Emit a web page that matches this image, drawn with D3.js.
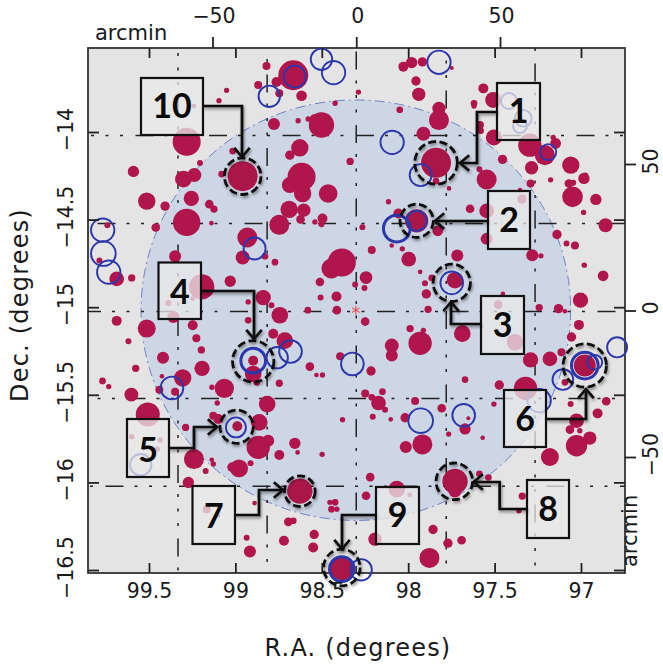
<!DOCTYPE html>
<html>
<head>
<meta charset="utf-8">
<script src="https://cdnjs.cloudflare.com/ajax/libs/d3/7.8.5/d3.min.js"></script>
<style>
html, body { margin: 0; padding: 0; background: #fff; }
text { font-family: "DejaVu Sans", sans-serif; fill: #1a1a1a; }
</style>
</head>
<body>
<div id="wrapper"></div>
<script>
// sources: [R.A. deg, Dec. deg, radius arcmin]
const stars = [
[98.820,-13.623,1.38],[98.665,-13.676,5.17],[98.868,-13.732,1.38],[98.762,-13.715,1.72],[98.746,-13.779,1.38],[98.617,-13.793,1.84],
[99.051,-13.762,.92],[99.095,-13.821,.92],[99.240,-13.852,.8],[98.777,-13.955,2.07],[98.502,-13.960,4.37],[98.540,-13.928,1.84],
[98.579,-13.926,.92],[98.637,-13.936,.92],[99.282,-14.056,4.83],[99.016,-14.109,1.15],[98.627,-14.090,2.99],[98.685,-14.132,1.61],
[99.590,-14.225,1.95],[99.205,-14.177,1.03],[99.238,-14.246,2.41],[99.301,-14.269,2.87],[99.080,-14.240,1.15],[98.617,-14.256,4.83],
[98.685,-14.303,2.76],[98.611,-14.351,2.99],[98.463,-14.351,3.22],[99.513,-14.395,2.99],[99.255,-14.379,2.64],[99.407,-14.423,1.61],
[99.151,-14.412,1.49],[99.124,-14.440,1.26],[99.282,-14.516,4.71],[98.689,-14.442,2.99],[98.604,-14.446,2.3],[98.623,-14.499,1.49],
[98.746,-14.530,3.45],[98.540,-14.513,.92],[98.496,-14.494,1.72],[98.502,-14.526,1.03],[99.139,-14.520,.8],[99.461,-14.545,1.49],
[98.931,-14.602,3.45],[98.958,-14.716,2.41],[98.829,-14.709,1.15],[99.349,-14.709,2.07],[98.771,-14.743,1.15],[99.741,-14.532,1.03],
[99.787,-14.734,1.03],[99.687,-14.838,2.53],[99.600,-14.833,1.26],[98.444,-14.779,3.45],[99.195,-14.884,4.37],[99.030,-14.852,1.95],
[98.511,-14.856,1.49],[98.507,-14.945,1.03],[98.839,-14.945,2.64],[98.926,-14.970,.92],[98.791,-14.989,1.03],[98.743,-15.046,2.87],
[98.581,-15.017,1.15],[99.388,-14.976,1.03],[99.247,-14.951,.8],[99.359,-15.056,2.07],[99.687,-15.078,1.72],[99.513,-15.122,3.1],
[98.926,-15.075,1.15],[99.247,-15.103,1.72],[98.781,-15.151,1.72],
[98.028,-13.627,1.72],[97.980,-13.604,1.95],[97.918,-13.600,1.61],[97.748,-13.635,.69],[97.955,-13.709,1.61],[97.939,-13.785,2.3],
[98.288,-13.772,.92],[98.423,-13.836,.92],[98.049,-13.873,1.15],[97.565,-13.751,1.72],[97.508,-13.817,2.76],[97.619,-13.836,1.15],
[97.619,-13.852,.92],[97.822,-13.865,2.3],[97.822,-13.932,3.45],[97.585,-13.960,1.38],[97.581,-13.993,1.15],[97.912,-14.010,2.41],
[97.504,-14.031,2.76],[97.296,-14.075,4.02],[97.209,-14.132,3.45],[97.147,-14.065,1.84],[97.161,-14.031,.92],[97.059,-14.189,2.99],
[97.286,-14.204,2.3],[97.454,-14.156,1.61],[97.588,-14.212,1.03],[97.546,-14.271,3.45],[97.839,-14.280,1.15],[98.336,-14.168,1.26],
[97.176,-14.273,.92],[96.983,-14.265,1.95],[96.974,-14.246,.92],[97.070,-14.294,1.49],[97.045,-14.290,1.03],[97.292,-14.294,1.38],
[97.049,-14.370,3.56],[96.914,-14.385,1.95],[97.764,-14.322,.8],[98.114,-14.398,.92],[97.642,-14.438,1.49],[97.546,-14.450,2.53],
[97.342,-14.383,1.61],[97.353,-14.332,.8],[96.985,-14.459,.92],[96.858,-14.532,2.41],[98.265,-14.543,1.03],[98.057,-14.465,1.72],
[97.829,-14.564,1.84],[97.139,-14.585,1.61],[97.546,-14.610,2.07],[98.095,-14.648,.8],[98.034,-14.667,.92],[97.084,-14.636,1.03],
[97.035,-14.648,1.38],[98.211,-14.673,1.38],[97.997,-14.726,2.53],[97.716,-14.705,2.07],[97.282,-14.703,2.07],[97.232,-14.707,.92],
[96.981,-14.760,.92],[98.384,-14.745,4.83],[97.931,-14.798,.8],[98.244,-14.831,2.18],[96.872,-14.821,1.84],[97.864,-14.833,1.15],
[97.903,-14.863,1.03],[98.307,-14.871,1.03],[98.253,-14.890,1.03],[97.895,-14.924,1.61],[98.415,-14.939,1.72],[97.452,-14.924,.8],
[97.003,-14.960,2.64],[97.479,-14.985,1.49],[98.413,-15.017,1.49],[97.885,-15.012,1.26],[97.242,-15.002,1.26],[97.130,-15.008,1.61],
[97.093,-15.023,.8],[98.249,-15.082,1.49],[97.012,-15.101,1.72],[97.989,-15.122,1.26],[97.912,-15.132,.92],[97.687,-15.151,2.87],
[99.619,-15.194,1.03],[99.419,-15.288,2.07],[99.226,-15.177,1.38],[99.197,-15.244,1.26],[99.193,-15.349,2.64],[99.577,-15.349,1.26],
[99.425,-15.394,.8],[99.305,-15.404,2.99],[99.440,-15.471,1.38],[99.349,-15.482,1.38],[99.769,-15.421,1.15],[99.733,-15.453,.92],
[99.602,-15.499,2.41],[99.136,-15.457,.92],[99.064,-15.463,3.33],[99.105,-15.547,.92],[98.816,-15.553,2.87],[98.714,-15.191,2.87],
[98.897,-15.381,2.87],[98.877,-15.429,1.15],[98.569,-15.339,1.49],[98.531,-15.387,.8],[98.496,-15.387,.92],[98.746,-15.434,1.26],
[99.507,-15.613,4.14],[99.600,-15.739,.92],[99.436,-15.758,.92],[99.452,-15.810,.92],[99.128,-15.619,1.38],[99.099,-15.638,1.72],
[98.862,-15.657,2.87],[99.288,-15.686,1.26],[98.810,-15.762,2.07],[98.868,-15.800,4.02],[98.656,-15.777,1.95],[98.640,-15.829,.8],
[98.746,-15.844,1.72],[98.498,-15.840,.92],[99.240,-15.867,3.45],[99.137,-15.871,.8],[99.128,-15.895,.92],[99.172,-15.935,1.03],
[98.979,-15.920,3.1],[99.018,-15.914,1.72],[98.912,-15.890,1.03],[99.272,-16.000,1.95],[98.889,-16.118,.8],[98.694,-16.225,1.49],
[98.665,-16.219,1.15],[99.166,-16.153,1.38],[99.099,-16.191,.69],[98.544,-16.297,1.61],[98.719,-16.333,1.72],[98.550,-16.372,1.72],
[98.935,-16.316,1.03],[98.916,-16.394,2.07],[98.453,-16.114,.92],[98.444,-16.153,1.15],
[98.095,-15.219,2.41],[98.095,-15.276,2.07],[97.931,-15.206,4.02],[98.394,-15.280,1.38],[98.215,-15.364,1.61],[97.382,-15.200,2.87],
[97.292,-15.301,2.64],[97.180,-15.295,2.53],[97.113,-15.257,1.38],[97.055,-15.170,1.61],[97.671,-15.413,1.15],[97.473,-15.444,1.61],
[97.321,-15.463,4.02],[97.093,-15.429,1.15],[98.249,-15.492,1.38],[98.211,-15.514,1.15],[98.172,-15.547,2.53],[98.149,-15.482,1.15],
[98.134,-15.585,1.03],[97.960,-15.535,1.38],[97.806,-15.577,1.49],[97.504,-15.553,.92],[97.060,-15.553,1.03],[96.854,-15.537,1.49],
[96.904,-15.606,1.72],[98.205,-15.625,1.03],[98.101,-15.640,.8],[98.380,-15.642,.92],[98.018,-15.631,1.61],[97.026,-15.648,2.53],
[97.064,-15.699,1.49],[97.007,-15.705,.92],[97.671,-15.695,1.95],[97.652,-15.634,.69],[97.766,-15.724,.92],[97.569,-15.745,.8],
[97.918,-15.783,3.45],[98.014,-15.798,2.07],[97.026,-15.791,3.68],[96.949,-15.747,2.3],[97.180,-15.855,3.1],[98.220,-15.970,1.49],
[97.729,-16.048,2.3],[97.588,-15.951,1.15],[97.536,-15.972,1.15],[98.066,-16.038,2.87],[97.991,-16.071,.8],[98.244,-16.076,1.49],
[98.423,-16.114,1.15],[98.413,-16.153,.92],[97.340,-16.078,1.26],[97.359,-16.162,.92],[97.856,-16.269,1.61],[97.691,-16.330,1.49],
[97.770,-16.347,1.61],[98.192,-16.324,2.3],[97.877,-16.431,3.45]
];
// the ten numbered sources, in label order
const targetLabels = ["1","2","3","4","5","6","7","8","9","10"];
const targetStars = [
[97.839,-14.176,5.17],[97.951,-14.507,4.02],[97.729,-14.846,2.87],[98.897,-15.305,1.72],[98.989,-15.680,1.72],
[96.978,-15.333,3.8],[98.627,-16.050,4.37],[97.729,-15.994,4.37],[98.384,-16.492,4.02],[98.958,-14.252,5.17]
];
const targetHalos = [
[97.839,-14.176,7.36],[97.951,-14.507,5.75],[97.748,-14.861,6.44],[98.897,-15.309,7.13],[98.993,-15.682,5.75],
[96.978,-15.333,7.47],[98.627,-16.050,5.29],[97.733,-15.994,6.32],[98.384,-16.486,6.32],[98.958,-14.252,6.32]
];
const rings = [
[98.502,-13.585,3.68],[98.656,-13.684,3.79],[98.804,-13.796,3.68],[99.768,-14.560,4.02],[99.764,-14.694,4.25],[99.733,-14.800,4.02],
[98.889,-14.665,3.79],[98.432,-13.661,4.02],[97.822,-13.602,4.02],[98.093,-14.059,4.02],[97.928,-14.246,3.79],[97.951,-14.507,3.45],
[97.748,-14.861,3.91],[97.190,-14.115,2.76],[97.417,-13.823,2.76],[97.334,-13.922,2.87],[97.353,-13.966,2.41],[98.758,-15.288,3.68],
[98.681,-15.253,3.91],[98.997,-15.686,3.45],[99.367,-15.461,3.91],[99.548,-15.899,3.68],[98.323,-15.324,3.91],[97.928,-15.648,4.25],
[97.679,-15.617,3.91],[97.242,-15.533,4.02],[97.105,-15.413,3.56],[96.920,-15.314,2.53],[96.791,-15.229,3.45],[98.272,-16.499,3.68]
];
const thickRings = [[98.066,-14.551,4.6],[98.897,-15.305,4.25],[96.978,-15.333,4.6],[98.384,-16.495,4.25]];
const fieldCentre = [98.303,-15.017];
const fieldRadius = [1.243,1.2];

const raTicks = [99.5,99,98.5,98,97.5,97];
const decTicks = [-14,-14.5,-15,-15.5,-16,-16.5];
const arcTicksTop = [-50,0,50];
const arcTicksRight = [50,0,-50];
const gridArcX = [-62,-31,0,31.3,62.2];
const gridArcY = [59.7,29.7,-0.3,-30,-60];

const width = 663, height = 664;
const plotLeft = 88, plotRight = 625, plotTop = 48, plotBottom = 573;

const x = d3.scaleLinear().domain([99.5,97]).range([149,581]);
const y = d3.scaleLinear().domain([-14,-16.5]).range([132,570]);
const xArc = d3.scaleLinear().domain([-50,50]).range([212.5,500]);
const yArc = d3.scaleLinear().domain([50,-50]).range([164,457]);
const rSize = d3.scaleLinear().domain([0,10]).range([0,29]);

const minus = s => String(s).replace("-", "\u2212");

const svg = d3.select("#wrapper").append("svg")
    .attr("width", width)
    .attr("height", height)
    .style("display", "block");

const defs = svg.append("defs");
const shadow = defs.append("filter").attr("id", "shadow")
    .attr("x", "-30%").attr("y", "-30%").attr("width", "160%").attr("height", "160%");
shadow.append("feDropShadow").attr("dx", 1).attr("dy", 2).attr("stdDeviation", 1.6)
    .attr("flood-color", "#000").attr("flood-opacity", 0.45);
defs.append("filter").attr("id", "soft")
    .append("feGaussianBlur").attr("stdDeviation", 0.35);

svg.append("rect")
    .attr("x", plotLeft).attr("y", plotTop).attr("width", plotRight-plotLeft).attr("height", plotBottom-plotTop)
    .attr("fill", "#e4e4e4");

// the frame goes on first: sources near the edge run over it
svg.append("rect")
    .attr("x", plotLeft).attr("y", plotTop).attr("width", plotRight-plotLeft).attr("height", plotBottom-plotTop)
    .attr("fill", "none").attr("stroke", "#333").attr("stroke-width", 1.8);

const plot = svg.append("g");

plot.append("ellipse")
    .attr("cx", x(fieldCentre[0])).attr("cy", y(fieldCentre[1]))
    .attr("rx", x(fieldCentre[0]-fieldRadius[0]) - x(fieldCentre[0]))
    .attr("ry", y(fieldCentre[1]-fieldRadius[1]) - y(fieldCentre[1]))
    .attr("fill", "#cdd6e4")
    .attr("stroke", "#4556b8")
    .attr("stroke-width", 0.7)
    .attr("stroke-dasharray", "10 4 2 4");

// grid, each line has its own dash phase
const gridDash = "18 11 3 11.5 3 11.5 3 12.5";
const phaseX = [49,26,3,42,15];
const phaseY = [47,9,68,39,17];
gridArcX.forEach((d,i) => {
    plot.append("line")
        .attr("x1", xArc(d)).attr("x2", xArc(d)).attr("y1", plotTop).attr("y2", plotBottom)
        .attr("stroke", "#222").attr("stroke-width", 1.5)
        .attr("stroke-dasharray", gridDash).attr("stroke-dashoffset", 73-phaseX[i]);
});
gridArcY.forEach((d,i) => {
    plot.append("line")
        .attr("y1", yArc(d)).attr("y2", yArc(d)).attr("x1", plotLeft).attr("x2", plotRight)
        .attr("stroke", "#222").attr("stroke-width", 1.5)
        .attr("stroke-dasharray", gridDash).attr("stroke-dashoffset", 73-phaseY[i]);
});

const starG = plot.append("g").attr("filter", "url(#soft)");
starG.selectAll("circle.star").data(stars).enter().append("circle")
    .attr("class", "star")
    .attr("cx", d => x(d[0])).attr("cy", d => y(d[1])).attr("r", d => rSize(d[2]))
    .attr("fill", "#b0134c");
starG.selectAll("circle.target").data(targetStars).enter().append("circle")
    .attr("class", "target")
    .attr("cx", d => x(d[0])).attr("cy", d => y(d[1])).attr("r", d => rSize(d[2]))
    .attr("fill", "#ab1849");

plot.append("path")
    .attr("transform", `translate(${x(fieldCentre[0])},${y(fieldCentre[1])})`)
    .attr("d", d3.symbol(d3.symbolAsterisk, 55)())
    .attr("fill", "none")
    .attr("stroke", "#e8403c")
    .attr("stroke-width", 1);

plot.selectAll("circle.ring").data(rings).enter().append("circle")
    .attr("class", "ring")
    .attr("cx", d => x(d[0])).attr("cy", d => y(d[1])).attr("r", d => rSize(d[2]))
    .attr("fill", "none")
    .attr("stroke", "#2b37aa")
    .attr("stroke-width", 1.9);
plot.selectAll("circle.thick").data(thickRings).enter().append("circle")
    .attr("class", "thick")
    .attr("cx", d => x(d[0])).attr("cy", d => y(d[1])).attr("r", d => rSize(d[2]))
    .attr("fill", "none")
    .attr("stroke", "#2b37aa")
    .attr("stroke-width", 3);

// dashed halos round the numbered sources
svg.append("g").attr("filter", "url(#shadow)")
    .selectAll("circle").data(targetHalos).enter().append("circle")
    .attr("cx", d => x(d[0])).attr("cy", d => y(d[1])).attr("r", d => rSize(d[2]))
    .attr("fill", "none")
    .attr("stroke", "#111")
    .attr("stroke-width", 2.8)
    .attr("stroke-dasharray", "8 3.5");

// callout layout on the page, not data: box corners and the elbow path to the halo
const callouts = [
    {box:[497,83,540,140], dy:3, path:[[497,112],[477,112],[477,163],[460,163]]},
    {box:[488,191,530,249], dy:3, path:[[488,221],[435,221]]},
    {box:[481,296,524,354], dy:3, path:[[481,324],[451,324],[451,302]]},
    {box:[158.5,262.5,201,319], dy:5, path:[[201,291],[254,291],[254,339]]},
    {box:[127,419,169,477], dy:5, path:[[169,448],[194,448],[194,427],[217,427]]},
    {box:[504,390,546,447], dy:4, path:[[546,419],[586,419],[586,389]]},
    {box:[192.5,486,235,544], dy:4, path:[[235,515],[259,515],[259,490],[283,490]]},
    {box:[527,480,569,538], dy:3, path:[[527,509],[499.7,509],[499.7,482],[473.7,482]]},
    {box:[376,487,419,544], dy:3, path:[[376,515],[342,515],[342,549]]},
    {box:[141,78,203,135], dy:3, path:[[203,106],[242,106],[242,157]]}
];

const line = d3.line();
const callG = svg.append("g");
callouts.forEach((c,i) => {
    const [x0,y0,x1,y1] = c.box;
    callG.append("rect")
        .attr("x", x0).attr("y", y0).attr("width", x1-x0).attr("height", y1-y0)
        .attr("fill", "#e8e8e8").attr("fill-opacity", 0.76)
        .attr("stroke", "#111").attr("stroke-width", 2.2);
    callG.append("text")
        .attr("x", (x0+x1)/2).attr("y", (y0+y1)/2 + c.dy)
        .attr("text-anchor", "middle").attr("dominant-baseline", "middle")
        .style("font-family", "Lato, sans-serif")
        .style("font-weight", 700).style("font-size", "34px").style("fill", "#0a0a0a")
        .text(targetLabels[i]);

    const n = c.path.length;
    const tip = c.path[n-1], prev = c.path[n-2];
    const a = Math.atan2(tip[1]-prev[1], tip[0]-prev[0]);
    const wing = s => [tip[0]-12*Math.cos(a+s*0.7), tip[1]-12*Math.sin(a+s*0.7)];
    const g = callG.append("g").attr("filter", "url(#shadow)");
    g.append("path").attr("d", line(c.path))
        .attr("fill", "none").attr("stroke", "#0a0a0a").attr("stroke-width", 2.7);
    g.append("path").attr("d", line([wing(1), tip, wing(-1)]))
        .attr("fill", "none").attr("stroke", "#0a0a0a").attr("stroke-width", 2.7);
});

// axes
const styleAxis = g => {
    g.select(".domain").remove();
    g.selectAll("line").attr("stroke", "#222").attr("stroke-width", 1.8);
    g.selectAll("text").style("font-size", "20.5px").attr("fill", "#1a1a1a");
};

svg.append("g").attr("transform", `translate(0,${plotBottom})`)
    .call(d3.axisBottom(x).tickValues(raTicks).tickSize(-10).tickFormat(d => String(d)))
    .call(styleAxis)
    .call(g => g.selectAll("text").attr("y", 25).attr("dy", 0));

svg.append("g").attr("transform", `translate(0,${plotTop})`)
    .call(d3.axisTop(x).tickValues(raTicks).tickSize(-10).tickFormat(""))
    .call(styleAxis);

svg.append("g").attr("transform", `translate(${plotLeft},0)`)
    .call(d3.axisLeft(y).tickValues(decTicks).tickSize(-11).tickFormat(minus))
    .call(styleAxis)
    .call(g => g.selectAll("text").attr("x", 0).attr("dy", 0).attr("text-anchor", "middle")
        .attr("transform", "translate(-15,-3) rotate(-90)"));

svg.append("g").attr("transform", `translate(${plotRight},0)`)
    .call(d3.axisRight(y).tickValues(decTicks).tickSize(-11).tickFormat(""))
    .call(styleAxis);

svg.append("g").attr("transform", `translate(0,${plotTop})`)
    .call(d3.axisTop(xArc).tickValues(arcTicksTop).tickSize(11).tickFormat(minus))
    .call(styleAxis)
    .call(g => g.selectAll("text").attr("y", -25).attr("dy", 0).attr("dx", 1));

svg.append("g").attr("transform", `translate(${plotRight},0)`)
    .call(d3.axisRight(yArc).tickValues(arcTicksRight).tickSize(11).tickFormat(minus))
    .call(styleAxis)
    .call(g => g.selectAll("text").attr("x", 0).attr("dy", 0).attr("text-anchor", "middle")
        .attr("transform", "translate(33,-3) rotate(-90)"));

svg.append("text").attr("x", 95).attr("y", 40)
    .style("font-size", "21px").text("arcmin");
svg.append("text").attr("transform", "translate(637,567) rotate(-90)")
    .style("font-size", "21px").text("arcmin");

svg.append("text").attr("x", 358).attr("y", 656).attr("text-anchor", "middle")
    .style("font-size", "24px").style("letter-spacing", "1.2px").text("R.A.  (degrees)");
svg.append("text").attr("transform", "translate(28,305) rotate(-90)").attr("text-anchor", "middle")
    .style("font-size", "24px").style("letter-spacing", "1.2px").text("Dec.  (degrees)");
</script>
</body>
</html>
